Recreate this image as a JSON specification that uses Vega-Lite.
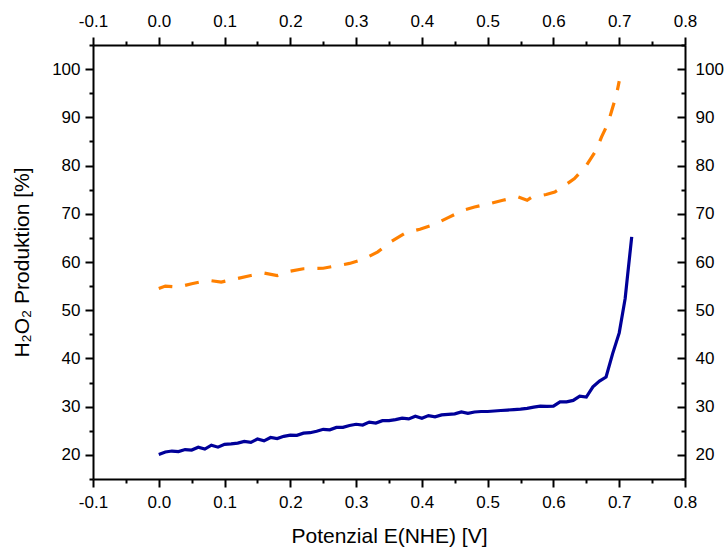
{
  "$schema": "https://vega.github.io/schema/vega-lite/v6.json",
  "autosize": "none",
  "padding": {"left": 93, "top": 45, "right": 41, "bottom": 71},
  "width": 592,
  "height": 434,
  "background": "white",
  "config": {
    "view": {"stroke": null},
    "axis": {
      "labelFont": "Liberation Sans",
      "titleFont": "Liberation Sans",
      "labelFontSize": 17,
      "titleFontSize": 21,
      "titleFontWeight": "normal",
      "labelColor": "#000000",
      "titleColor": "#000000",
      "domainColor": "#000000",
      "tickColor": "#000000",
      "domainWidth": 2,
      "tickWidth": 2,
      "grid": false,
      "labelOverlap": false,
      "labelFlush": false
    }
  },
  "datasets": {
    "blue": [
      {"x": 0.0, "y": 20.1}, {"x": 0.01, "y": 20.6}, {"x": 0.02, "y": 20.8}, {"x": 0.03, "y": 20.7},
      {"x": 0.04, "y": 21.1}, {"x": 0.05, "y": 21.0}, {"x": 0.06, "y": 21.6}, {"x": 0.07, "y": 21.2},
      {"x": 0.08, "y": 22.0}, {"x": 0.09, "y": 21.6}, {"x": 0.10, "y": 22.2}, {"x": 0.11, "y": 22.3},
      {"x": 0.12, "y": 22.45}, {"x": 0.13, "y": 22.8}, {"x": 0.14, "y": 22.6}, {"x": 0.15, "y": 23.3},
      {"x": 0.16, "y": 22.9}, {"x": 0.17, "y": 23.6}, {"x": 0.18, "y": 23.4}, {"x": 0.19, "y": 23.85},
      {"x": 0.20, "y": 24.1}, {"x": 0.21, "y": 24.05}, {"x": 0.22, "y": 24.5}, {"x": 0.23, "y": 24.6},
      {"x": 0.24, "y": 24.9}, {"x": 0.25, "y": 25.3}, {"x": 0.26, "y": 25.2}, {"x": 0.27, "y": 25.7},
      {"x": 0.28, "y": 25.7}, {"x": 0.29, "y": 26.1}, {"x": 0.30, "y": 26.35}, {"x": 0.31, "y": 26.2},
      {"x": 0.32, "y": 26.8}, {"x": 0.33, "y": 26.6}, {"x": 0.34, "y": 27.1}, {"x": 0.35, "y": 27.1},
      {"x": 0.36, "y": 27.3}, {"x": 0.37, "y": 27.6}, {"x": 0.38, "y": 27.45}, {"x": 0.39, "y": 28.0},
      {"x": 0.40, "y": 27.6}, {"x": 0.41, "y": 28.15}, {"x": 0.42, "y": 27.9}, {"x": 0.43, "y": 28.3},
      {"x": 0.44, "y": 28.4}, {"x": 0.45, "y": 28.5}, {"x": 0.46, "y": 28.9}, {"x": 0.47, "y": 28.6},
      {"x": 0.48, "y": 28.9}, {"x": 0.49, "y": 29.0}, {"x": 0.50, "y": 29.0}, {"x": 0.51, "y": 29.1},
      {"x": 0.52, "y": 29.2}, {"x": 0.53, "y": 29.3}, {"x": 0.54, "y": 29.4}, {"x": 0.55, "y": 29.5},
      {"x": 0.56, "y": 29.65}, {"x": 0.57, "y": 29.9}, {"x": 0.58, "y": 30.1}, {"x": 0.59, "y": 30.05},
      {"x": 0.60, "y": 30.1}, {"x": 0.61, "y": 31.0}, {"x": 0.62, "y": 31.0}, {"x": 0.63, "y": 31.3},
      {"x": 0.64, "y": 32.2}, {"x": 0.65, "y": 32.0}, {"x": 0.66, "y": 34.1}, {"x": 0.67, "y": 35.3},
      {"x": 0.68, "y": 36.15}, {"x": 0.69, "y": 41.0}, {"x": 0.70, "y": 45.3}, {"x": 0.709, "y": 52.4},
      {"x": 0.713, "y": 57.6}, {"x": 0.719, "y": 65.2}
    ],
    "orange": [
      {"x": 0.0, "y": 54.5}, {"x": 0.01, "y": 55.0}, {"x": 0.03, "y": 54.8}, {"x": 0.05, "y": 55.5},
      {"x": 0.075, "y": 56.2}, {"x": 0.095, "y": 55.85}, {"x": 0.12, "y": 56.6}, {"x": 0.14, "y": 57.2},
      {"x": 0.16, "y": 57.7}, {"x": 0.18, "y": 57.2}, {"x": 0.20, "y": 58.1}, {"x": 0.22, "y": 58.6},
      {"x": 0.25, "y": 58.7}, {"x": 0.27, "y": 59.2}, {"x": 0.29, "y": 59.7}, {"x": 0.31, "y": 60.5},
      {"x": 0.333, "y": 62.1}, {"x": 0.354, "y": 64.3}, {"x": 0.376, "y": 66.1}, {"x": 0.397, "y": 66.8},
      {"x": 0.419, "y": 67.8}, {"x": 0.44, "y": 69.2}, {"x": 0.462, "y": 70.7}, {"x": 0.48, "y": 71.4},
      {"x": 0.506, "y": 72.2}, {"x": 0.523, "y": 72.8}, {"x": 0.546, "y": 73.5}, {"x": 0.56, "y": 72.8},
      {"x": 0.566, "y": 73.35}, {"x": 0.589, "y": 74.0}, {"x": 0.602, "y": 74.5}, {"x": 0.61, "y": 75.2},
      {"x": 0.632, "y": 77.3}, {"x": 0.65, "y": 80.0}, {"x": 0.665, "y": 83.2}, {"x": 0.673, "y": 85.9},
      {"x": 0.683, "y": 88.8}, {"x": 0.688, "y": 91.1}, {"x": 0.696, "y": 94.8}, {"x": 0.70, "y": 97.5}
    ]
  },
  "layer": [
    {
      "data": {"name": "blue"},
      "mark": {"type": "line", "color": "#000099", "strokeWidth": 3.2, "clip": true},
      "encoding": {
        "x": {
          "field": "x", "type": "quantitative",
          "scale": {"domain": [-0.1, 0.8], "nice": false, "zero": false},
          "axis": {
            "orient": "bottom",
            "title": "Potenzial E(NHE) [V]",
            "values": [-0.1, -0.05, 0, 0.05, 0.1, 0.15, 0.2, 0.25, 0.3, 0.35, 0.4, 0.45, 0.5, 0.55, 0.6, 0.65, 0.7, 0.75, 0.8],
            "labelExpr": "abs(round(datum.value*20)) % 2 == 1 ? '' : (datum.value < 0 ? '-' : '') + format(abs(datum.value), '.1f')",
            "tickSize": {"condition": {"test": "abs(round(datum.value*20)) % 2 == 1", "value": 4}, "value": 8},
            "labelPadding": 7,
            "titlePadding": 15
          }
        },
        "y": {
          "field": "y", "type": "quantitative",
          "scale": {"domain": [15, 105], "nice": false, "zero": false},
          "axis": {
            "orient": "left",
            "title": "H₂O₂ Produktion [%]",
            "values": [15, 20, 25, 30, 35, 40, 45, 50, 55, 60, 65, 70, 75, 80, 85, 90, 95, 100, 105],
            "labelExpr": "datum.value % 10 == 0 ? datum.label : ''",
            "tickSize": {"condition": {"test": "datum.value % 10 != 0", "value": 4}, "value": 8},
            "labelPadding": 5,
            "titlePadding": 19
          }
        }
      }
    },
    {
      "data": {"name": "orange"},
      "mark": {"type": "line", "color": "#FF8000", "strokeWidth": 3.2, "strokeDash": [14, 13], "clip": true},
      "encoding": {
        "x": {
          "field": "x", "type": "quantitative",
          "axis": {
            "orient": "top",
            "title": null,
            "values": [-0.1, -0.05, 0, 0.05, 0.1, 0.15, 0.2, 0.25, 0.3, 0.35, 0.4, 0.45, 0.5, 0.55, 0.6, 0.65, 0.7, 0.75, 0.8],
            "labelExpr": "abs(round(datum.value*20)) % 2 == 1 ? '' : (datum.value < 0 ? '-' : '') + format(abs(datum.value), '.1f')",
            "tickSize": {"condition": {"test": "abs(round(datum.value*20)) % 2 == 1", "value": 4}, "value": 8},
            "labelPadding": 7
          }
        },
        "y": {
          "field": "y", "type": "quantitative",
          "axis": {
            "orient": "right",
            "title": null,
            "values": [15, 20, 25, 30, 35, 40, 45, 50, 55, 60, 65, 70, 75, 80, 85, 90, 95, 100, 105],
            "labelExpr": "datum.value % 10 == 0 ? datum.label : ''",
            "tickSize": {"condition": {"test": "datum.value % 10 != 0", "value": -4}, "value": -8},
            "labelPadding": 18
          }
        }
      }
    }
  ],
  "resolve": {"axis": {"x": "independent", "y": "independent"}}
}
